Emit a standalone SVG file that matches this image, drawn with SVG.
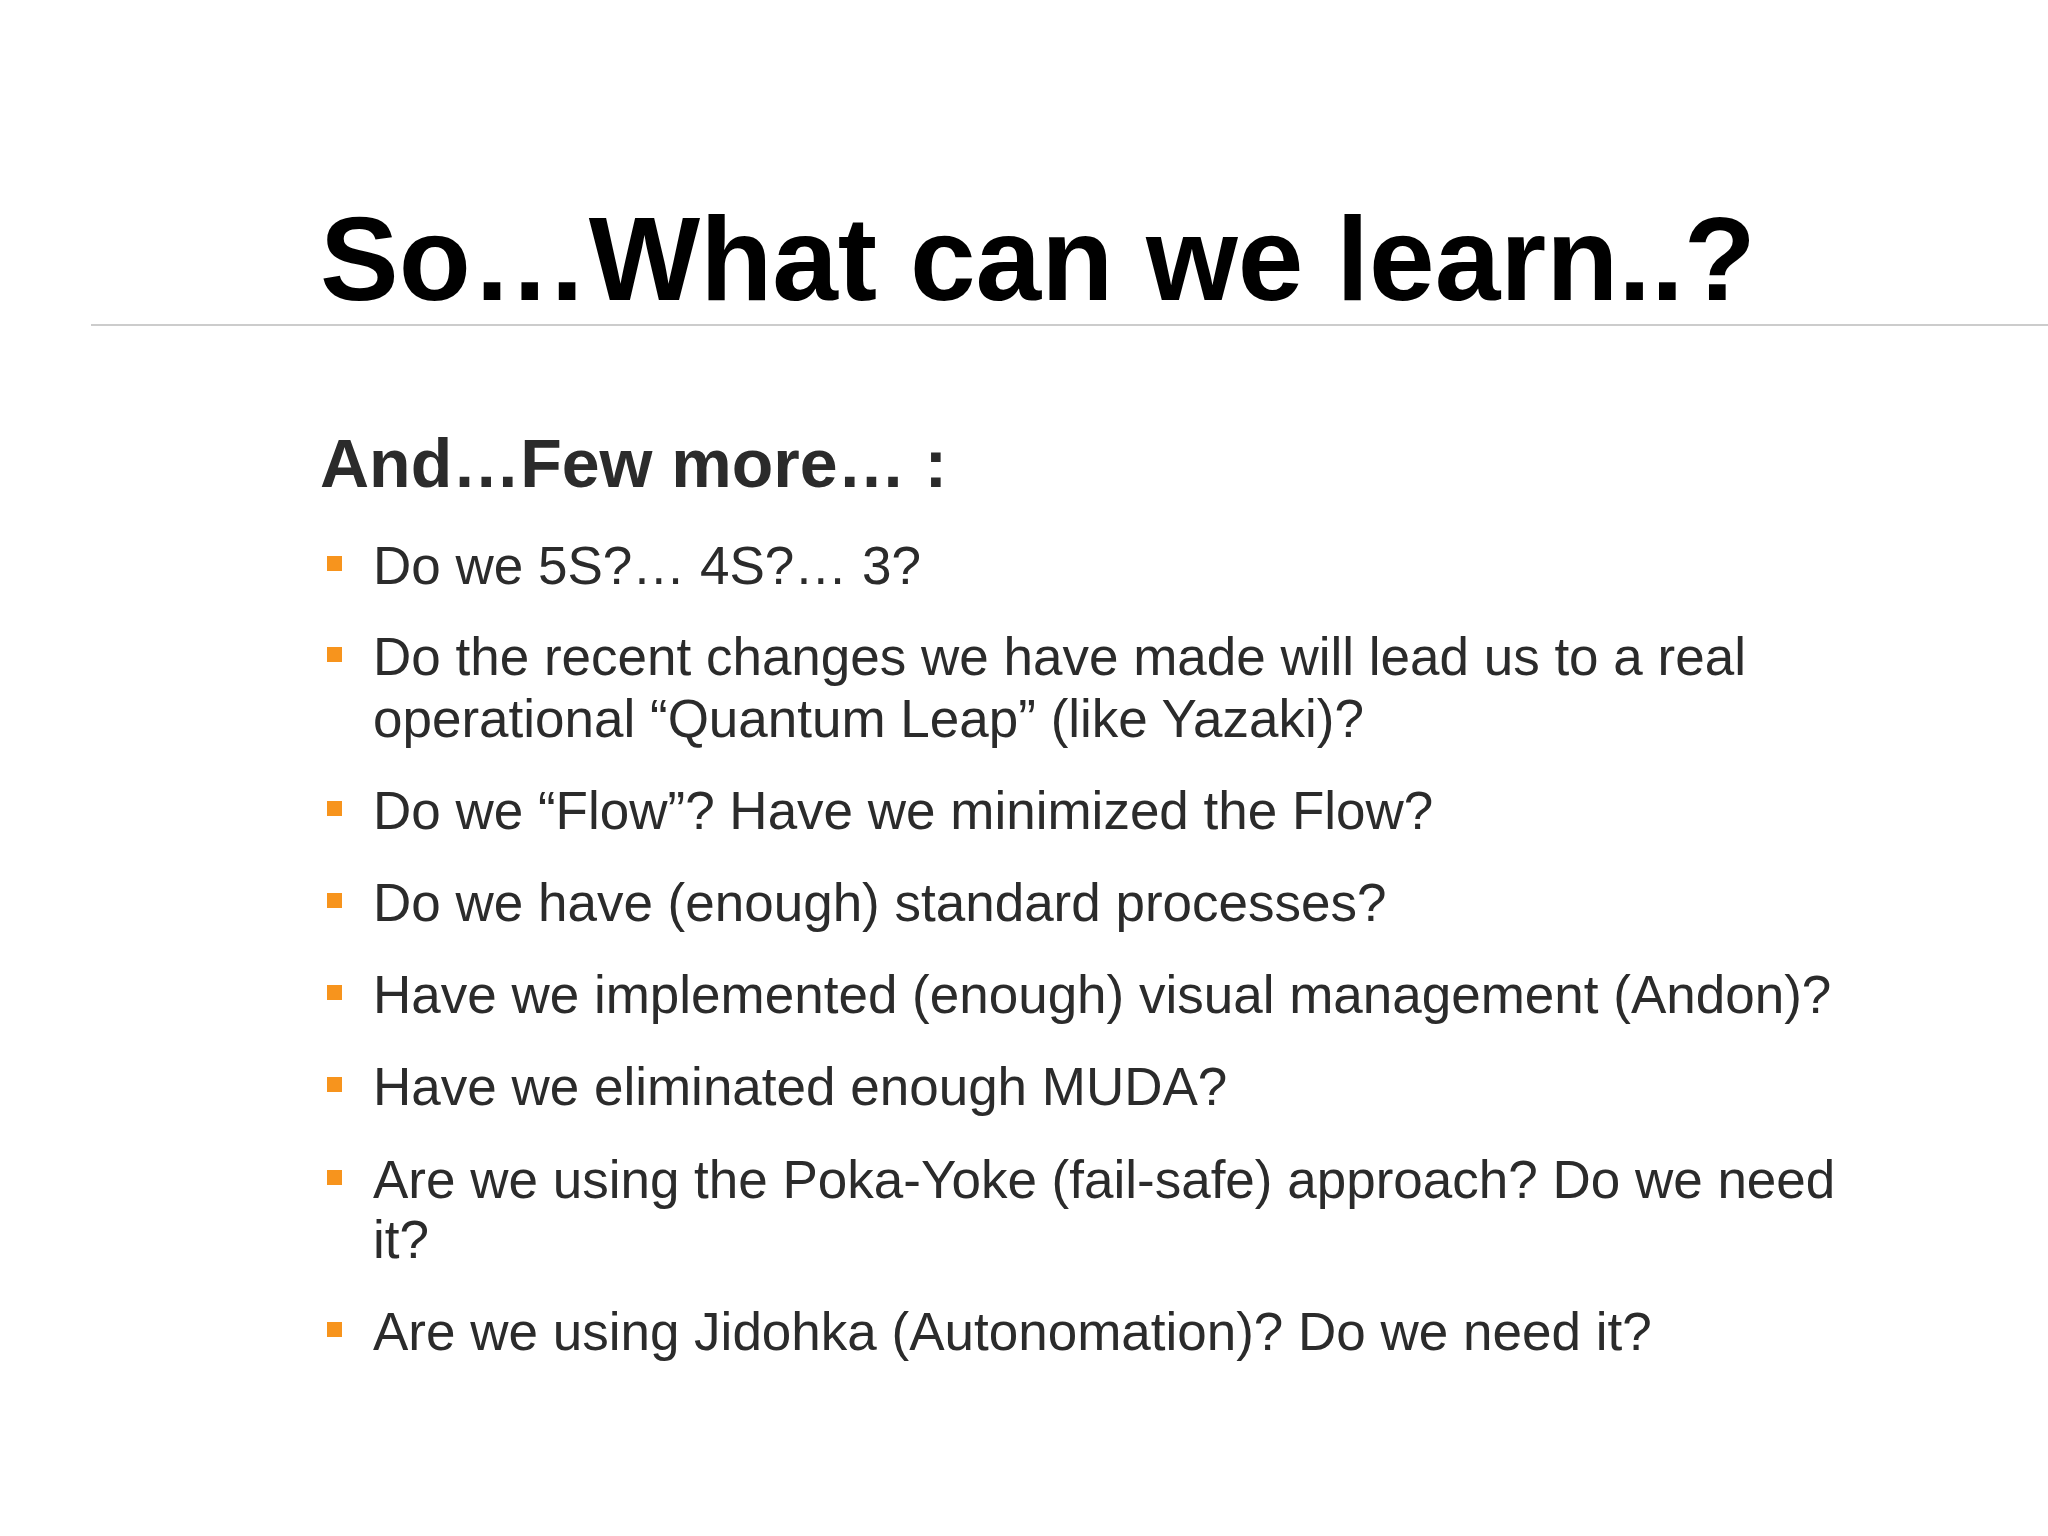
<svg xmlns="http://www.w3.org/2000/svg" width="2048" height="1536" viewBox="0 0 2048 1536">
<style>
.t{font-family:"Liberation Sans",Arial,sans-serif;fill:#2b2b2b;font-size:53px}
.b{fill:#f7941d}
</style>
<rect width="2048" height="1536" fill="#ffffff"/>
<text x="320" y="300" font-family="Liberation Sans,Arial,sans-serif" font-weight="bold" font-size="118" fill="#000">So…What can we learn..?</text>
<line x1="91" y1="325" x2="2048" y2="325" stroke="#cccccc" stroke-width="2"/>
<text x="320" y="487" font-family="Liberation Sans,Arial,sans-serif" font-weight="bold" font-size="68" fill="#2b2b2b">And…Few more… :</text>
<g id="bullets">
<rect class="b" x="327" y="556" width="15" height="15"/>
<text class="t" x="373" y="584">Do we 5S?… 4S?… 3?</text>
<rect class="b" x="327" y="647" width="15" height="15"/>
<text class="t" x="373" y="675">Do the recent changes we have made will lead us to a real</text>
<text class="t" x="373" y="737">operational “Quantum Leap” (like Yazaki)?</text>
<rect class="b" x="327" y="801" width="15" height="15"/>
<text class="t" x="373" y="829">Do we “Flow”? Have we minimized the Flow?</text>
<rect class="b" x="327" y="893" width="15" height="15"/>
<text class="t" x="373" y="921">Do we have (enough) standard processes?</text>
<rect class="b" x="327" y="985" width="15" height="15"/>
<text class="t" x="373" y="1013">Have we implemented (enough) visual management (Andon)?</text>
<rect class="b" x="327" y="1077" width="15" height="15"/>
<text class="t" x="373" y="1105">Have we eliminated enough MUDA?</text>
<rect class="b" x="327" y="1170" width="15" height="15"/>
<text class="t" x="373" y="1198">Are we using the Poka-Yoke (fail-safe) approach? Do we need</text>
<text class="t" x="373" y="1258">it?</text>
<rect class="b" x="327" y="1322" width="15" height="15"/>
<text class="t" x="373" y="1350">Are we using Jidohka (Autonomation)? Do we need it?</text>
</g>
</svg>
